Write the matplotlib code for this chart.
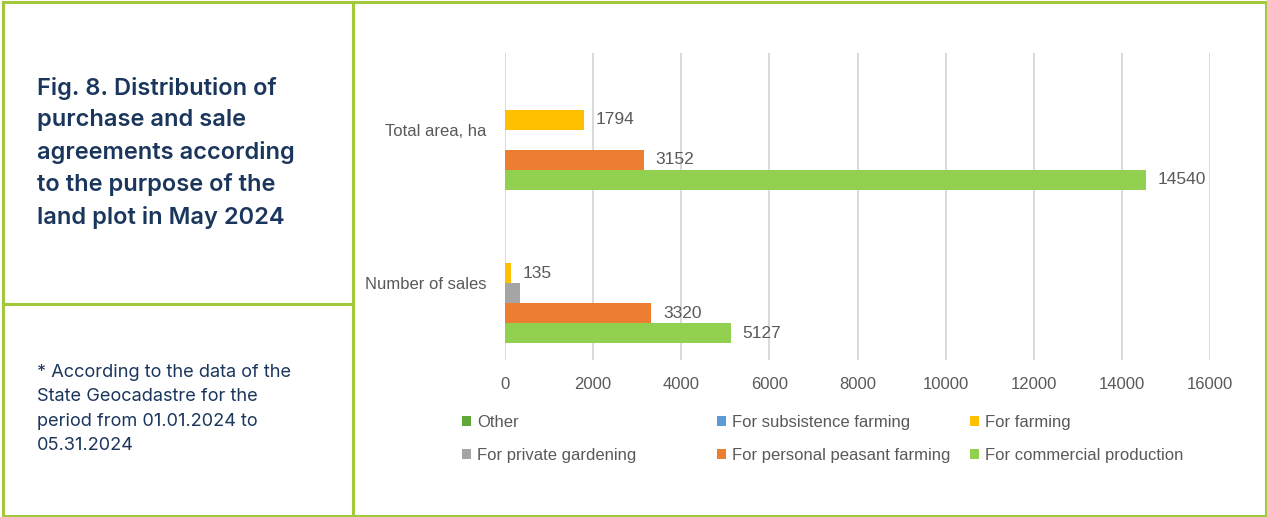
import numpy as np
import matplotlib.pyplot as plt
from matplotlib.lines import Line2D

# Data
categories = ['Number of sales', 'Total area, ha']
series_names = ['Other', 'For subsistence farming', 'For farming',
                'For private gardening', 'For personal peasant farming',
                'For commercial production']
other = [0, 0]
subsistence = [0, 0]
farming = [135, 1794]
gardening = [330, 0]
peasant = [3320, 3152]
commercial = [5127, 14540]
# value labels shown in the source (gardening is not labelled there)
shown_labels = {
    'For farming': ['135', '1794'],
    'For personal peasant farming': ['3320', '3152'],
    'For commercial production': ['5127', '14540'],
}
x_ticks = [0, 2000, 4000, 6000, 8000, 10000, 12000, 14000, 16000]

title_text = ('Fig. 8. Distribution of\npurchase and sale\nagreements according\n'
              'to the purpose of the\nland plot in May 2024')
note_text = ('* According to the data of the\nState Geocadastre for the\n'
             'period from 01.01.2024 to\n05.31.2024')

colors = ['#5FA83A', '#5B9BD5', '#FFC000', '#A5A5A5', '#ED7D31', '#92D050']
border_col = '#A3C83C'
navy = '#1B365D'
grey_txt = '#595959'
chart_font = ['Liberation Sans Narrow', 'Liberation Sans', 'DejaVu Sans']

W, H = 1267, 517
fig = plt.figure(figsize=(W / 100, H / 100), dpi=100)


def fx(px):
    return px / W


def fy(py):
    return 1 - py / H


# panel borders
lw = 2.2
for (x0, y0, x1, y1) in [(3, 1.5, 1265.5, 1.5), (3, 515.5, 1265.5, 515.5),
                         (3, 1.5, 3, 515.5), (1265.5, 1.5, 1265.5, 515.5),
                         (353, 1.5, 353, 515.5), (3, 304, 353, 304)]:
    fig.add_artist(Line2D([fx(x0), fx(x1)], [fy(y0), fy(y1)], color=border_col,
                          lw=lw, transform=fig.transFigure))

# left panel texts
fig.text(fx(37), fy(153), title_text, ha='left', va='center', color=navy,
         fontsize=17, fontweight='semibold', family=['Inter', 'DejaVu Sans'],
         linespacing=1.53)
fig.text(fx(37), fy(409), note_text, ha='left', va='center', color=navy,
         fontsize=13.1, family=['Inter', 'DejaVu Sans'], linespacing=1.55)

# chart
ax = fig.add_axes([fx(505), fy(360), fx(1210) - fx(505), fy(53) - fy(360)])
series = [other, subsistence, farming, gardening, peasant, commercial]
y = np.arange(len(categories))
bh = 0.13
handles = []
for i, (name, vals) in enumerate(zip(series_names, series)):
    off = (2.5 - i) * bh
    bars = ax.barh(y + off, vals, height=bh, color=colors[i], label=name, zorder=3)
    handles.append(bars)
    if name in shown_labels:
        ax.bar_label(bars, labels=shown_labels[name], padding=8.5,
                     fontsize=12.5, color=grey_txt, family=chart_font)

ax.set_xlim(0, 16000)
ax.set_ylim(-0.5, 1.5)
ax.set_xticks(x_ticks)
ax.set_xticklabels([str(t) for t in x_ticks], family=chart_font)
ax.set_yticks(y)
ax.set_yticklabels(categories, family=chart_font)
ax.tick_params(axis='both', length=0, labelsize=12, labelcolor=grey_txt)
ax.tick_params(axis='x', pad=12)
ax.tick_params(axis='y', pad=13.5)
ax.grid(axis='x', color='#D9D9D9', lw=1.4, zorder=0)
for s in ax.spines.values():
    s.set_visible(False)

# legend, three columns placed like the source
cols = [(462, [0, 3]), (717, [1, 4]), (970, [2, 5])]
for xpx, idx in cols:
    fig.legend(handles=[handles[k] for k in idx], labels=[series_names[k] for k in idx],
               loc='center left', bbox_to_anchor=(fx(xpx), fy(439)),
               frameon=False, ncol=1, borderpad=0, borderaxespad=0,
               handlelength=0.55, handleheight=0.55, handletextpad=0.35,
               labelspacing=1.05, prop={'family': chart_font, 'size': 12},
               labelcolor=grey_txt)

fig.savefig('out.png', dpi=100)
